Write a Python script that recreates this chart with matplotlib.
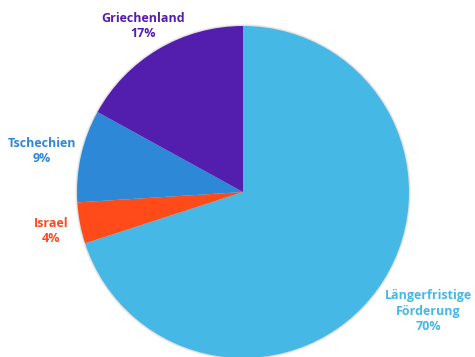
import matplotlib.pyplot as plt
from matplotlib.patches import Circle

# Anteile der Förderung (im Uhrzeigersinn ab 12 Uhr)
labels = ['Längerfristige\nFörderung', 'Israel', 'Tschechien', 'Griechenland']
shares = [70, 4, 9, 17]
colors = ['#46B8E6', '#FF4B19', '#2E88D8', '#531DAE']

W, H = 475, 357
cx, cy, r = 243, 192, 166

fig = plt.figure(figsize=(W / 100, H / 100), dpi=100)
ax = fig.add_axes([0, 0, 1, 1])

# faint shadow round the pie
for k, a in [(1.012, 0.10), (1.006, 0.18)]:
    ax.add_patch(Circle((0, 0), k, color='#888888', alpha=a, lw=0, zorder=0))

ax.pie(shares, colors=colors, startangle=90, counterclock=False,
       wedgeprops=dict(linewidth=0))
ax.set_aspect('auto')
ax.set_xlim(-cx / r, (W - cx) / r)
ax.set_ylim((cy - H) / r, cy / r)
ax.axis('off')

# label positions in pixels (x, y from top)
pos = [(428, 311), (51, 231), (42, 151), (143, 26)]
for lab, v, c, (px, py) in zip(labels, shares, colors, pos):
    ax.text((px - cx) / r, (cy - py) / r, f'{lab}\n{v}%', color=c,
            ha='center', va='center', fontsize=9, fontweight='bold',
            family='Open Sans', linespacing=1.2)

fig.savefig('out.png', dpi=100)
